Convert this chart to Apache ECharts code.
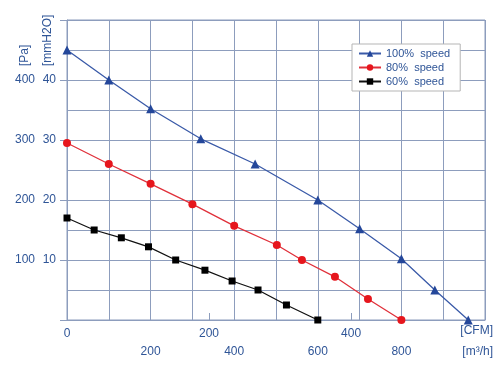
<!DOCTYPE html>
<html>
<head>
<meta charset="utf-8">
<script src="https://cdn.jsdelivr.net/npm/echarts@6/dist/echarts.min.js"></script>
<style>html,body{margin:0;padding:0;background:#fff}#c{width:502px;height:369px}</style>
</head>
<body>
<div id="c"></div>
<script>
// airflow in m3/h, static pressure in Pa
var seriesNames = ['100%  speed', '80%  speed', '60%  speed'];
var flow100 = [0, 100, 200, 320, 450, 600, 700, 800, 880, 960];
var pres100 = [450, 400, 352, 302, 260, 200, 152, 102, 50, 0];
var flow80 = [0, 100, 200, 300, 400, 502, 562, 641, 720, 800];
var pres80 = [295, 260, 227, 193, 157, 125, 100, 72, 35, 0];
var flow60 = [0, 65, 130, 195, 260, 330, 395, 457, 525, 600];
var pres60 = [170, 150, 137, 122, 100, 83, 65, 50, 25, 0];
var m3hTicks = [200, 400, 600, 800];
var cfmTicks = [0, 200, 400];
var paTicks = [100, 200, 300, 400];
var mmTicks = [10, 20, 30, 40];

function pairs(xs, ys) { return xs.map(function (x, i) { return [x, ys[i]]; }); }

var txt = '#2f5597';
var gridC = '#8d9dbd';
var font = 'Liberation Sans, Arial, sans-serif';
var chart = echarts.init(document.getElementById('c'));
chart.setOption({
  animation: false,
  backgroundColor: '#fff',
  grid: { left: 67, top: 20, right: 17, bottom: 49, show: true, borderColor: gridC, borderWidth: 1 },
  xAxis: [{
    type: 'value', min: 0, max: 1000, interval: 100, position: 'bottom',
    axisLine: { show: true, lineStyle: { color: gridC } },
    axisTick: { show: false },
    splitLine: { show: true, lineStyle: { color: gridC, width: 1 } },
    axisLabel: { margin: 26, color: txt, fontFamily: font, fontSize: 12,
      formatter: function (v) { return m3hTicks.indexOf(v) >= 0 ? String(v) : ''; } }
  }, {
    type: 'value', min: 0, max: 1000 / 1.699, interval: 200, position: 'bottom',
    axisLine: { show: false },
    axisTick: { show: true, inside: true, length: 7, lineStyle: { color: gridC } },
    splitLine: { show: false },
    axisLabel: { margin: 8, color: txt, fontFamily: font, fontSize: 12, showMaxLabel: false,
      formatter: function (v) { return cfmTicks.indexOf(v) >= 0 ? String(v) : ''; } }
  }],
  yAxis: [{
    type: 'value', min: 0, max: 500, interval: 100, position: 'left',
    axisLine: { show: true, lineStyle: { color: gridC } },
    axisTick: { show: true, length: 7, lineStyle: { color: gridC } },
    splitLine: { show: true, lineStyle: { color: gridC } },
    minorTick: { show: false, splitNumber: 2 },
    minorSplitLine: { show: true, lineStyle: { color: gridC } },
    axisLabel: { margin: 32, color: txt, fontFamily: font, fontSize: 12,
      formatter: function (v) { return paTicks.indexOf(v) >= 0 ? String(v) : ''; } }
  }, {
    type: 'value', min: 0, max: 50, interval: 10, position: 'left',
    axisLine: { show: false }, axisTick: { show: false }, splitLine: { show: false },
    axisLabel: { margin: 11, color: txt, fontFamily: font, fontSize: 12,
      formatter: function (v) { return mmTicks.indexOf(v) >= 0 ? String(v) : ''; } }
  }],
  legend: {
    left: 352, top: 44, orient: 'vertical', itemGap: 3, itemWidth: 22, itemHeight: 8,
    backgroundColor: '#fff', borderColor: '#b5b5b5', borderWidth: 1, padding: [4, 10, 4, 6],
    textStyle: { color: txt, fontFamily: font, fontSize: 11 },
    data: seriesNames
  },
  graphic: [
    { type: 'text', x: 493, y: 331, style: { text: '[CFM]', fill: txt, font: '12px ' + font, textAlign: 'right', textVerticalAlign: 'middle' } },
    { type: 'text', x: 493, y: 352, style: { text: '[m³/h]', fill: txt, font: '12px ' + font, textAlign: 'right', textVerticalAlign: 'middle' } },
    { type: 'text', x: 25, y: 66, rotation: Math.PI / 2, style: { text: '[Pa]', fill: txt, font: '12px ' + font, textAlign: 'left', textVerticalAlign: 'middle' } },
    { type: 'text', x: 48, y: 66, rotation: Math.PI / 2, style: { text: '[mmH2O]', fill: txt, font: '12px ' + font, textAlign: 'left', textVerticalAlign: 'middle' } }
  ],
  series: [{
    name: seriesNames[0], type: 'line', data: pairs(flow100, pres100),
    symbol: 'triangle', symbolSize: 9, color: '#24479a',
    lineStyle: { width: 1.3, color: '#3a5aa8' }, itemStyle: { color: '#24479a' }
  }, {
    name: seriesNames[1], type: 'line', data: pairs(flow80, pres80),
    symbol: 'circle', symbolSize: 8, color: '#e6161d',
    lineStyle: { width: 1.3, color: '#e0303a' }, itemStyle: { color: '#e6161d' }
  }, {
    name: seriesNames[2], type: 'line', data: pairs(flow60, pres60),
    symbol: 'rect', symbolSize: 7, color: '#000',
    lineStyle: { width: 1.3, color: '#111' }, itemStyle: { color: '#000' }
  }]
});
</script>
</body>
</html>
